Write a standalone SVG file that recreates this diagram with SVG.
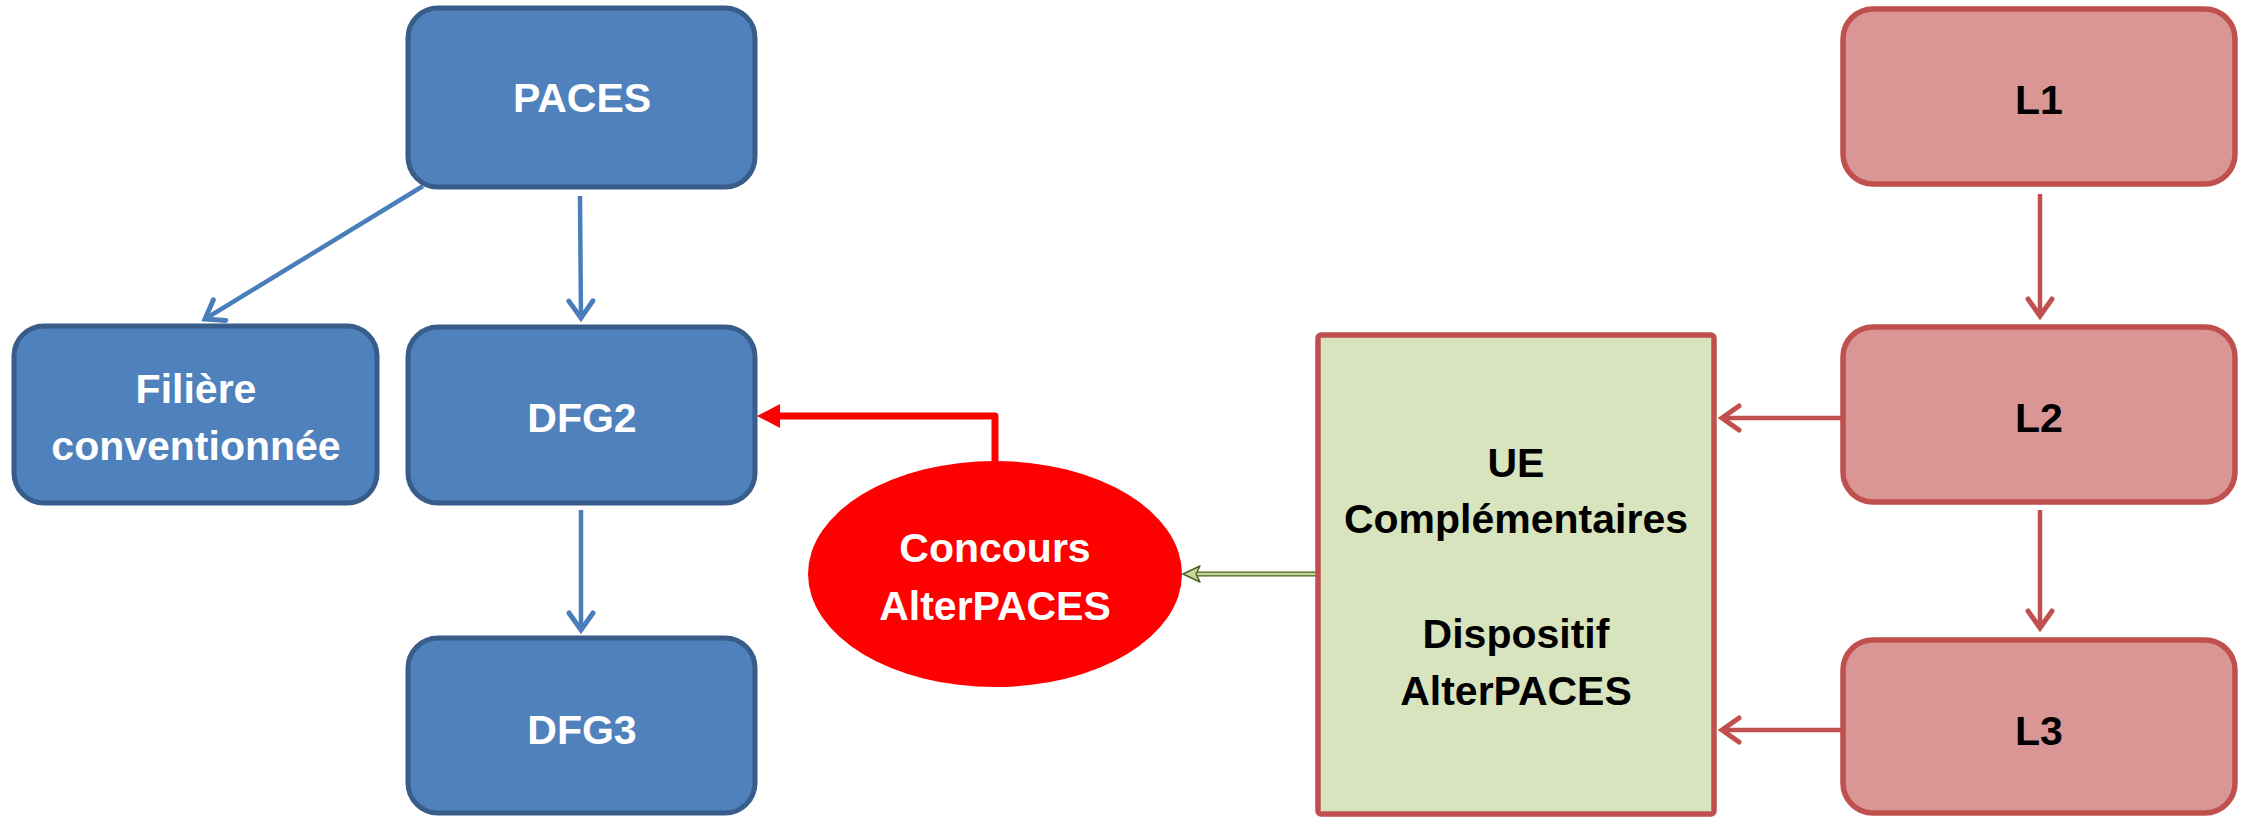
<svg xmlns="http://www.w3.org/2000/svg" width="2243" height="819" viewBox="0 0 2243 819">
  <style>
    .lbl { font-family: "Liberation Sans", Arial, sans-serif; font-weight: bold; font-size: 41px; text-anchor: middle; }
    .white { fill: #ffffff; }
    .black { fill: #000000; }
    .blue { fill: #4f81bd; stroke: #385d8a; stroke-width: 5; }
    .pink { fill: #d99694; stroke: #c0504d; stroke-width: 5.5; }
    .green { fill: #d7e4bd; stroke: #c0504d; stroke-width: 5.5; }
    .conn-blue { fill: none; stroke: #4a7ebb; stroke-width: 4.5; }
    .conn-red { fill: none; stroke: #c0504d; stroke-width: 4.5; }
  </style>
  <defs>
    <marker id="chev-blue" markerUnits="userSpaceOnUse" viewBox="-30 -20 40 40" markerWidth="40" markerHeight="40" refX="0" refY="0" orient="auto" overflow="visible">
      <path d="M-17,-12 L0,0 L-17,12" fill="none" stroke="#4a7ebb" stroke-width="5" stroke-linecap="round"/>
    </marker>
    <marker id="chev-red" markerUnits="userSpaceOnUse" viewBox="-30 -20 40 40" markerWidth="40" markerHeight="40" refX="0" refY="0" orient="auto" overflow="visible">
      <path d="M-17,-12 L0,0 L-17,12" fill="none" stroke="#c0504d" stroke-width="5" stroke-linecap="round"/>
    </marker>
    <marker id="tri-red" markerUnits="userSpaceOnUse" viewBox="-10 -20 40 40" markerWidth="40" markerHeight="40" refX="0" refY="0" orient="auto" overflow="visible">
      <path d="M-2,-12 L21,0 L-2,12 Z" fill="#ff0000"/>
    </marker>
    <marker id="stealth-green" markerUnits="userSpaceOnUse" viewBox="-10 -20 40 40" markerWidth="40" markerHeight="40" refX="0" refY="0" orient="auto" overflow="visible">
      <path d="M-3,-8 L14,0 L-3,8 L1,0 Z" fill="#c4d79b" stroke="#4f6228" stroke-width="1.5" stroke-linejoin="round"/>
    </marker>
    <filter id="glow" x="-20%" y="-300%" width="140%" height="700%">
      <feGaussianBlur stdDeviation="3.5"/>
    </filter>
  </defs>

  <!-- connectors -->
  <g id="connectors">
    <path class="conn-blue" d="M423,186 L205,319" marker-end="url(#chev-blue)"/>
    <path class="conn-blue" d="M580,196 L581,318" marker-end="url(#chev-blue)"/>
    <path class="conn-blue" d="M581,510 L581,630" marker-end="url(#chev-blue)"/>
    <path class="conn-red" d="M2040,194 L2040,316" marker-end="url(#chev-red)"/>
    <path class="conn-red" d="M2040,510 L2040,628" marker-end="url(#chev-red)"/>
    <path class="conn-red" d="M1842,418 L1722,418" marker-end="url(#chev-red)"/>
    <path class="conn-red" d="M1842,730 L1722,730" marker-end="url(#chev-red)"/>
    <path d="M995,461 L995,416 L778,416" fill="none" stroke="#ff0000" stroke-width="7" stroke-linejoin="round" marker-end="url(#tri-red)"/>
    <!-- glowing link from the green panel to the ellipse -->
    <path d="M1320,574 L1186,574" fill="none" stroke="#ee7070" stroke-width="13" stroke-linecap="round" opacity="0.75" filter="url(#glow)"/>
    <path d="M1318,574 L1197,574" fill="none" stroke="#4f6228" stroke-width="5"/>
    <path d="M1318,574 L1197,574" fill="none" stroke="#c4d79b" stroke-width="2.5" marker-end="url(#stealth-green)"/>
  </g>

  <g id="paces">
    <rect class="blue" x="408" y="8" width="347" height="179" rx="30"/>
    <text class="lbl white" x="582" y="112">PACES</text>
  </g>
  <g id="filiere">
    <rect class="blue" x="14" y="326" width="363" height="177" rx="30"/>
    <text class="lbl white" x="196" y="403">Filière</text>
    <text class="lbl white" x="196" y="460">conventionnée</text>
  </g>
  <g id="dfg2">
    <rect class="blue" x="408" y="327" width="347" height="176" rx="30"/>
    <text class="lbl white" x="582" y="432">DFG2</text>
  </g>
  <g id="dfg3">
    <rect class="blue" x="408" y="638" width="347" height="175" rx="30"/>
    <text class="lbl white" x="582" y="744">DFG3</text>
  </g>
  <g id="concours">
    <ellipse cx="995" cy="574" rx="187" ry="113" fill="#ff0000"/>
    <text class="lbl white" x="995" y="562">Concours</text>
    <text class="lbl white" x="995" y="620">AlterPACES</text>
  </g>
  <g id="ue">
    <rect class="green" x="1318" y="335" width="396" height="479" rx="3"/>
    <text class="lbl black" x="1516" y="477">UE</text>
    <text class="lbl black" x="1516" y="533">Complémentaires</text>
    <text class="lbl black" x="1516" y="648">Dispositif</text>
    <text class="lbl black" x="1516" y="705">AlterPACES</text>
  </g>
  <g id="l1">
    <rect class="pink" x="1843" y="9" width="392" height="175" rx="30"/>
    <text class="lbl black" x="2039" y="114">L1</text>
  </g>
  <g id="l2">
    <rect class="pink" x="1843" y="327" width="392" height="175" rx="30"/>
    <text class="lbl black" x="2039" y="432">L2</text>
  </g>
  <g id="l3">
    <rect class="pink" x="1843" y="640" width="392" height="173" rx="30"/>
    <text class="lbl black" x="2039" y="745">L3</text>
  </g>
</svg>
